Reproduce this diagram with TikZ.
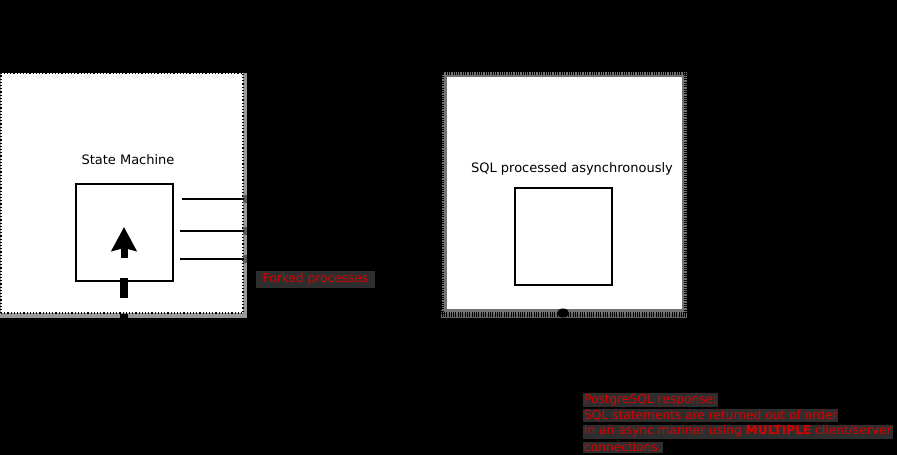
\documentclass[tikz,border=0pt]{standalone}
\usepackage{fontspec}
\setmainfont{DejaVu Sans}
\usetikzlibrary{arrows.meta}

\tikzset{
  frame/.style={draw, fill=white, dotted, line width=1.2pt},
  block/.style={draw, line width=2pt, minimum width=97pt, minimum height=97pt},
  link/.style={line width=1.6pt},
  redtag/.style={fill=black!82, text=red!85!black, inner sep=1pt, font=\fontsize{12.2}{14}\selectfont}
}

\begin{document}
\begin{tikzpicture}[x=1pt, y=-1pt, font=\fontsize{13}{15}\selectfont]
        \useasboundingbox (0,0) rectangle (897,455);
        \fill[black] (0,0) rectangle (897,455);
        % state machine side
        \fill[black!40] (0,73) rectangle (247,318);
        \node[frame, minimum width=242pt, minimum height=240pt] (left) at (122,193) {};
        \node (smlabel) at (128,160) {State Machine};
        \node[block] (sm) at (124.5,232.5) {};
        \foreach \y/\d in {199/8,231/6,259/6} {
            \fill[black!65] (243,\y-4) rectangle (247,\y+4);
            \draw[link] ([xshift=\d pt]sm.east |- 0,\y) -- (left.east |- 0,\y);
        }
        \coordinate (inlow) at (124,298);
        \coordinate (inhigh) at (124,278);
        \draw[line width=7.5pt] (inlow) -- (inhigh);
        \draw[line width=7pt, -{Stealth[length=24pt 0 0, width=25pt 0 0, inset=3pt]}] (124,258) -- (124,227);
        \fill[black] (120,314) rectangle (128,320);
        \node[redtag, minimum width=119pt, minimum height=17pt] (forked) at (315.5,279.5) {Forked processes};
        % postgres side
        \fill[black!60] (441,310) rectangle (687,318);
        \node[draw=black!55, fill=white, line width=5pt, minimum width=240pt, minimum height=237pt] (pg) at (564,193) {};
        \draw[black, line width=5pt, dash pattern=on 1pt off 1.3pt] (pg.south west) rectangle (pg.north east);
        \node (pglabel) at (572,169) {SQL processed asynchronously};
        \node[block] (sql) at (563,236.5) {};
        \fill[black] (563,313) ellipse (6pt and 4.5pt);
        \foreach \t [count=\i] in {PostgreSQL response:, SQL statements are returned out of order, in an async manner using \textbf{MULTIPLE} client/server, connections.}
            \node[redtag, anchor=west] (reply\i) at (583,384.5+15.7*\i) {\t};
\end{tikzpicture}
\end{document}
